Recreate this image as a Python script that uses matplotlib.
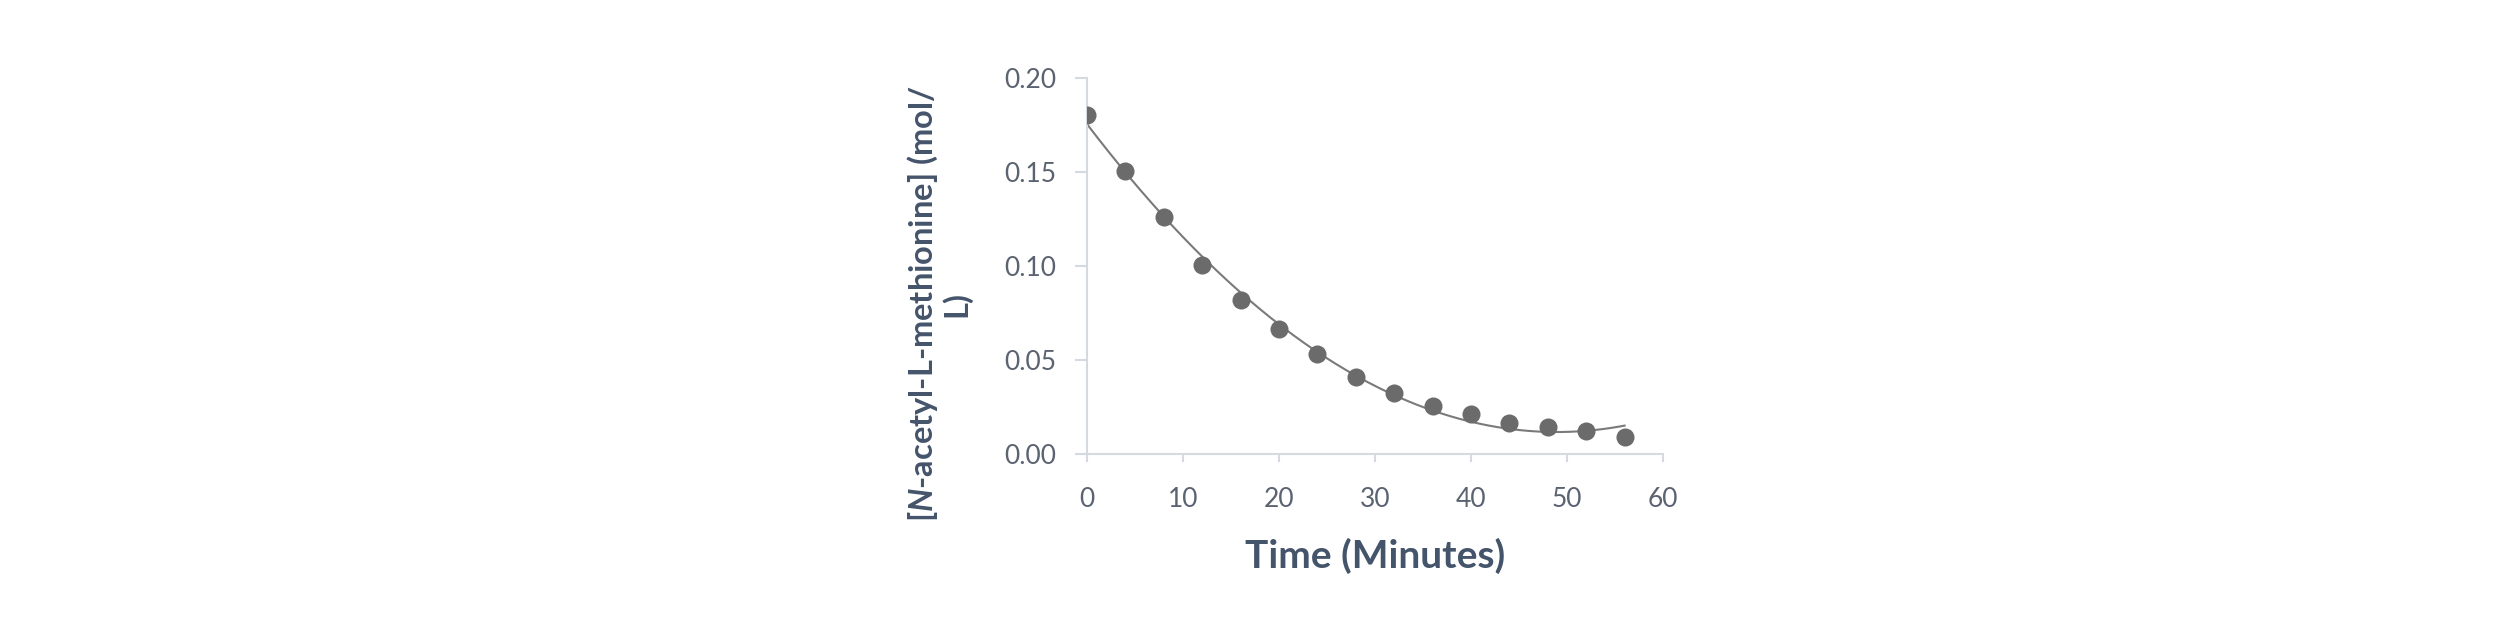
import matplotlib.pyplot as plt
import numpy as np

# data
time_min = [0, 4, 8, 12, 16, 20, 24, 28, 32, 36, 40, 44, 48, 52, 56]
conc = [0.1805, 0.1503, 0.1260, 0.1006, 0.0820, 0.0664, 0.0531, 0.0412,
        0.0323, 0.0256, 0.0213, 0.0167, 0.0142, 0.0124, 0.0089]
x_ticks = [0, 10, 20, 30, 40, 50, 60]
y_ticks = [0.00, 0.05, 0.10, 0.15, 0.20]

plt.rcParams["font.family"] = ["Lato", "DejaVu Sans"]
plt.rcParams["mathtext.fontset"] = "custom"
plt.rcParams["mathtext.bfit"] = "Lato:italic:bold"
plt.rcParams["mathtext.it"] = "Lato:italic"
plt.rcParams["mathtext.rm"] = "Lato"

fig = plt.figure(figsize=(25, 6.25), dpi=100)
ax = fig.add_axes([0.4348, 0.2736, 0.2304, 0.6016])

# polynomial trendline through the points
coef = np.polyfit(time_min, conc, 2)
t_fit = np.linspace(time_min[0], time_min[-1], 200)
ax.plot(t_fit, np.polyval(coef, t_fit), color="#7a7a7a", lw=1.5, zorder=2)
ax.plot(time_min, conc, "o", color="#6b6b6b", ms=13, mec="none", zorder=3)

ax.set_xlim(0, 60)
ax.set_ylim(0, 0.20)
ax.set_xticks(x_ticks)
ax.set_yticks(y_ticks)
ax.set_yticklabels([f"{v:.2f}" for v in y_ticks])

spine_col = "#d5d9e0"
for s in ("top", "right"):
    ax.spines[s].set_visible(False)
for s in ("left", "bottom"):
    ax.spines[s].set_color(spine_col)
    ax.spines[s].set_linewidth(1.5)

ax.tick_params(axis="y", length=9, width=1.5, color=spine_col, pad=13,
               labelsize=19, labelcolor="#5b6371")
ax.tick_params(axis="x", length=6, width=1.5, color=spine_col, pad=18,
               labelsize=19, labelcolor="#5b6371")

ax.set_xlabel("Time (Minutes)", fontsize=28, fontweight="bold",
              color="#44546a", labelpad=18)
ax.set_ylabel("[$\\mathbfit{N}$-acetyl-L-methionine] (mol/\nL)", fontsize=23.5,
              fontweight="bold", color="#44546a", linespacing=1.05)
ax.yaxis.set_label_coords(-0.20, 0.40)

fig.savefig("out.png", dpi=100)
